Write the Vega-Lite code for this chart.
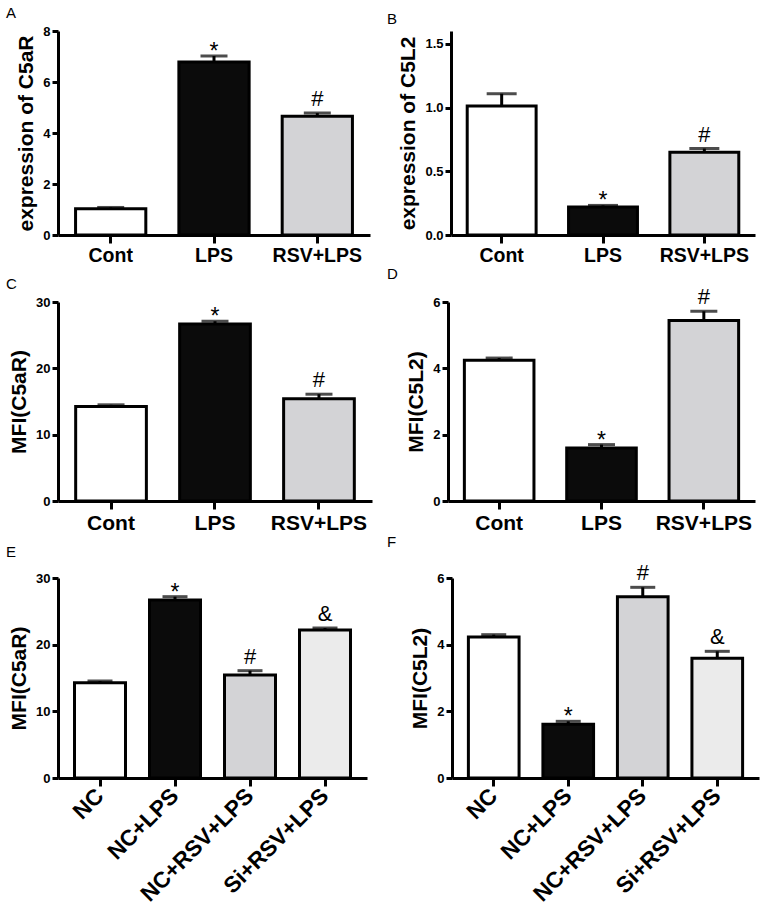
{
  "$schema": "https://vega.github.io/schema/vega-lite/v6.json",
  "background": "white",
  "padding": {"left": 6, "top": 6, "right": 5, "bottom": 5},
  "spacing": 2,
  "datasets": {
    "A": [
      {"group": "Cont", "value": 1.03, "err": 1.08, "sig": ""},
      {"group": "LPS", "value": 6.78, "err": 7.02, "sig": "*"},
      {"group": "RSV+LPS", "value": 4.66, "err": 4.78, "sig": "#"}
    ],
    "B": [
      {"group": "Cont", "value": 1.012, "err": 1.108, "sig": ""},
      {"group": "LPS", "value": 0.22, "err": 0.232, "sig": "*"},
      {"group": "RSV+LPS", "value": 0.65, "err": 0.678, "sig": "#"}
    ],
    "C": [
      {"group": "Cont", "value": 14.25, "err": 14.5, "sig": ""},
      {"group": "LPS", "value": 26.7, "err": 27.1, "sig": "*"},
      {"group": "RSV+LPS", "value": 15.4, "err": 16.1, "sig": "#"}
    ],
    "D": [
      {"group": "Cont", "value": 4.24, "err": 4.31, "sig": ""},
      {"group": "LPS", "value": 1.6, "err": 1.7, "sig": "*"},
      {"group": "RSV+LPS", "value": 5.44, "err": 5.72, "sig": "#"}
    ],
    "E": [
      {"group": "NC", "value": 14.3, "err": 14.55, "sig": ""},
      {"group": "NC+LPS", "value": 26.7, "err": 27.2, "sig": "*"},
      {"group": "NC+RSV+LPS", "value": 15.45, "err": 16.1, "sig": "#"},
      {"group": "Si+RSV+LPS", "value": 22.2, "err": 22.5, "sig": "&"}
    ],
    "F": [
      {"group": "NC", "value": 4.23, "err": 4.3, "sig": ""},
      {"group": "NC+LPS", "value": 1.61, "err": 1.7, "sig": "*"},
      {"group": "NC+RSV+LPS", "value": 5.44, "err": 5.72, "sig": "#"},
      {"group": "Si+RSV+LPS", "value": 3.59, "err": 3.8, "sig": "&"}
    ]
  },
  "vconcat": [
    {
      "bounds": "flush",
      "spacing": 81,
      "hconcat": [
        {
          "width": 312, "height": 204,
          "title": {"text": "A", "offset": 4, "dx": -52},
          "data": {"name": "A"},
          "encoding": {"x": {"field": "group", "type": "nominal", "sort": null, "title": null, "scale": {"paddingInner": 0.32, "paddingOuter": 0.17}, "axis": {"labelAngle": 0, "labelFontSize": 19.5}}},
          "layer": [
            {"mark": {"type": "rule", "strokeWidth": 3, "color": "black"}, "encoding": {"y": {"field": "value", "type": "quantitative"}, "y2": {"field": "err"}}},
            {"mark": {"type": "tick", "thickness": 3, "size": 27, "color": "black"}, "encoding": {"y": {"field": "err", "type": "quantitative"}}},
            {"mark": {"type": "bar", "stroke": "black", "strokeWidth": 3}, "encoding": {"y": {"field": "value", "type": "quantitative", "scale": {"domain": [0, 8]}, "axis": {"values": [0, 2, 4, 6, 8], "title": "expression of C5aR"}}, "fill": {"field": "group", "type": "nominal", "legend": null, "scale": {"domain": ["Cont", "LPS", "RSV+LPS"], "range": ["#ffffff", "#0b0b0b", "#d3d3d6"]}}}},
            {"transform": [{"filter": "datum.sig == '*'"}], "mark": {"type": "text", "fontSize": 23, "dy": 3, "baseline": "alphabetic"}, "encoding": {"y": {"field": "err", "type": "quantitative"}, "text": {"field": "sig"}}},
            {"transform": [{"filter": "datum.sig == '#' || datum.sig == '&'"}], "mark": {"type": "text", "fontSize": 22, "dy": -7, "baseline": "alphabetic"}, "encoding": {"y": {"field": "err", "type": "quantitative"}, "text": {"field": "sig"}}}
          ]
        },
        {
          "width": 304, "height": 204,
          "title": {"text": "B", "offset": 4, "dx": -64},
          "data": {"name": "B"},
          "encoding": {"x": {"field": "group", "type": "nominal", "sort": null, "title": null, "scale": {"paddingInner": 0.32, "paddingOuter": 0.16}, "axis": {"labelAngle": 0, "labelFontSize": 19.5}}},
          "layer": [
            {"mark": {"type": "rule", "strokeWidth": 3, "color": "black"}, "encoding": {"y": {"field": "value", "type": "quantitative"}, "y2": {"field": "err"}}},
            {"mark": {"type": "tick", "thickness": 3, "size": 30, "color": "black"}, "encoding": {"y": {"field": "err", "type": "quantitative"}}},
            {"mark": {"type": "bar", "stroke": "black", "strokeWidth": 3}, "encoding": {"y": {"field": "value", "type": "quantitative", "scale": {"domain": [0, 1.5]}, "axis": {"values": [0, 0.5, 1, 1.5], "format": ".1f", "title": "expression of C5L2"}}, "fill": {"field": "group", "type": "nominal", "legend": null, "scale": {"domain": ["Cont", "LPS", "RSV+LPS"], "range": ["#ffffff", "#0b0b0b", "#d3d3d6"]}}}},
            {"transform": [{"filter": "datum.sig == '*'"}], "mark": {"type": "text", "fontSize": 23, "dy": 3, "baseline": "alphabetic"}, "encoding": {"y": {"field": "err", "type": "quantitative"}, "text": {"field": "sig"}}},
            {"transform": [{"filter": "datum.sig == '#' || datum.sig == '&'"}], "mark": {"type": "text", "fontSize": 22, "dy": -7, "baseline": "alphabetic"}, "encoding": {"y": {"field": "err", "type": "quantitative"}, "text": {"field": "sig"}}}
          ]
        }
      ]
    },
    {
      "bounds": "flush",
      "spacing": 76,
      "hconcat": [
        {
          "width": 314, "height": 199,
          "title": {"text": "C", "offset": 4, "dx": -52},
          "data": {"name": "C"},
          "encoding": {"x": {"field": "group", "type": "nominal", "sort": null, "title": null, "scale": {"paddingInner": 0.32, "paddingOuter": 0.17}, "axis": {"labelAngle": 0, "labelFontSize": 21}}},
          "layer": [
            {"mark": {"type": "rule", "strokeWidth": 3, "color": "black"}, "encoding": {"y": {"field": "value", "type": "quantitative"}, "y2": {"field": "err"}}},
            {"mark": {"type": "tick", "thickness": 3, "size": 27, "color": "black"}, "encoding": {"y": {"field": "err", "type": "quantitative"}}},
            {"mark": {"type": "bar", "stroke": "black", "strokeWidth": 3}, "encoding": {"y": {"field": "value", "type": "quantitative", "scale": {"domain": [0, 30]}, "axis": {"values": [0, 10, 20, 30], "title": "MFI(C5aR)"}}, "fill": {"field": "group", "type": "nominal", "legend": null, "scale": {"domain": ["Cont", "LPS", "RSV+LPS"], "range": ["#ffffff", "#0b0b0b", "#d3d3d6"]}}}},
            {"transform": [{"filter": "datum.sig == '*'"}], "mark": {"type": "text", "fontSize": 23, "dy": 3, "baseline": "alphabetic"}, "encoding": {"y": {"field": "err", "type": "quantitative"}, "text": {"field": "sig"}}},
            {"transform": [{"filter": "datum.sig == '#' || datum.sig == '&'"}], "mark": {"type": "text", "fontSize": 22, "dy": -7, "baseline": "alphabetic"}, "encoding": {"y": {"field": "err", "type": "quantitative"}, "text": {"field": "sig"}}}
          ]
        },
        {
          "width": 307, "height": 199,
          "title": {"text": "D", "offset": 4, "dx": -61},
          "data": {"name": "D"},
          "encoding": {"x": {"field": "group", "type": "nominal", "sort": null, "title": null, "scale": {"paddingInner": 0.32, "paddingOuter": 0.16}, "axis": {"labelAngle": 0, "labelFontSize": 21}}},
          "layer": [
            {"mark": {"type": "rule", "strokeWidth": 3, "color": "black"}, "encoding": {"y": {"field": "value", "type": "quantitative"}, "y2": {"field": "err"}}},
            {"mark": {"type": "tick", "thickness": 3, "size": 27, "color": "black"}, "encoding": {"y": {"field": "err", "type": "quantitative"}}},
            {"mark": {"type": "bar", "stroke": "black", "strokeWidth": 3}, "encoding": {"y": {"field": "value", "type": "quantitative", "scale": {"domain": [0, 6]}, "axis": {"values": [0, 2, 4, 6], "title": "MFI(C5L2)"}}, "fill": {"field": "group", "type": "nominal", "legend": null, "scale": {"domain": ["Cont", "LPS", "RSV+LPS"], "range": ["#ffffff", "#0b0b0b", "#d3d3d6"]}}}},
            {"transform": [{"filter": "datum.sig == '*'"}], "mark": {"type": "text", "fontSize": 23, "dy": 3, "baseline": "alphabetic"}, "encoding": {"y": {"field": "err", "type": "quantitative"}, "text": {"field": "sig"}}},
            {"transform": [{"filter": "datum.sig == '#' || datum.sig == '&'"}], "mark": {"type": "text", "fontSize": 22, "dy": -7, "baseline": "alphabetic"}, "encoding": {"y": {"field": "err", "type": "quantitative"}, "text": {"field": "sig"}}}
          ]
        }
      ]
    },
    {
      "bounds": "flush",
      "spacing": 85,
      "hconcat": [
        {
          "width": 309, "height": 200,
          "title": {"text": "E", "offset": 12, "dx": -52},
          "data": {"name": "E"},
          "encoding": {"x": {"field": "group", "type": "nominal", "sort": null, "title": null, "scale": {"paddingInner": 0.32, "paddingOuter": 0.22}, "axis": {"labelAngle": -45, "labelFontSize": 22.5, "labelAlign": "right", "labelBaseline": "middle", "labelPadding": 6}}},
          "layer": [
            {"mark": {"type": "rule", "strokeWidth": 3, "color": "black"}, "encoding": {"y": {"field": "value", "type": "quantitative"}, "y2": {"field": "err"}}},
            {"mark": {"type": "tick", "thickness": 3, "size": 25, "color": "black"}, "encoding": {"y": {"field": "err", "type": "quantitative"}}},
            {"mark": {"type": "bar", "stroke": "black", "strokeWidth": 3}, "encoding": {"y": {"field": "value", "type": "quantitative", "scale": {"domain": [0, 30]}, "axis": {"values": [0, 10, 20, 30], "title": "MFI(C5aR)"}}, "fill": {"field": "group", "type": "nominal", "legend": null, "scale": {"domain": ["NC", "NC+LPS", "NC+RSV+LPS", "Si+RSV+LPS"], "range": ["#ffffff", "#0b0b0b", "#d3d3d6", "#ebebeb"]}}}},
            {"transform": [{"filter": "datum.sig == '*'"}], "mark": {"type": "text", "fontSize": 23, "dy": 3, "baseline": "alphabetic"}, "encoding": {"y": {"field": "err", "type": "quantitative"}, "text": {"field": "sig"}}},
            {"transform": [{"filter": "datum.sig == '#' || datum.sig == '&'"}], "mark": {"type": "text", "fontSize": 22, "dy": -7, "baseline": "alphabetic"}, "encoding": {"y": {"field": "err", "type": "quantitative"}, "text": {"field": "sig"}}}
          ]
        },
        {
          "width": 307, "height": 200,
          "title": {"text": "F", "offset": 12, "dx": -65},
          "data": {"name": "F"},
          "encoding": {"x": {"field": "group", "type": "nominal", "sort": null, "title": null, "scale": {"paddingInner": 0.32, "paddingOuter": 0.22}, "axis": {"labelAngle": -45, "labelFontSize": 22.5, "labelAlign": "right", "labelBaseline": "middle", "labelPadding": 6}}},
          "layer": [
            {"mark": {"type": "rule", "strokeWidth": 3, "color": "black"}, "encoding": {"y": {"field": "value", "type": "quantitative"}, "y2": {"field": "err"}}},
            {"mark": {"type": "tick", "thickness": 3, "size": 25, "color": "black"}, "encoding": {"y": {"field": "err", "type": "quantitative"}}},
            {"mark": {"type": "bar", "stroke": "black", "strokeWidth": 3}, "encoding": {"y": {"field": "value", "type": "quantitative", "scale": {"domain": [0, 6]}, "axis": {"values": [0, 2, 4, 6], "title": "MFI(C5L2)"}}, "fill": {"field": "group", "type": "nominal", "legend": null, "scale": {"domain": ["NC", "NC+LPS", "NC+RSV+LPS", "Si+RSV+LPS"], "range": ["#ffffff", "#0b0b0b", "#d3d3d6", "#ebebeb"]}}}},
            {"transform": [{"filter": "datum.sig == '*'"}], "mark": {"type": "text", "fontSize": 23, "dy": 3, "baseline": "alphabetic"}, "encoding": {"y": {"field": "err", "type": "quantitative"}, "text": {"field": "sig"}}},
            {"transform": [{"filter": "datum.sig == '#' || datum.sig == '&'"}], "mark": {"type": "text", "fontSize": 22, "dy": -7, "baseline": "alphabetic"}, "encoding": {"y": {"field": "err", "type": "quantitative"}, "text": {"field": "sig"}}}
          ]
        }
      ]
    }
  ],
  "resolve": {"scale": {"x": "independent", "y": "independent", "fill": "independent"}},
  "config": {
    "font": "Liberation Sans",
    "view": {"stroke": null},
    "axis": {"domainColor": "black", "domainWidth": 3, "tickColor": "black", "tickWidth": 3, "labelColor": "black", "labelFont": "Liberation Sans", "labelFontWeight": "bold", "titleFont": "Liberation Sans", "titleFontWeight": "bold", "titleColor": "black", "grid": false},
    "axisX": {"labelFontSize": 19, "tickSize": 8, "labelPadding": 3},
    "axisY": {"labelFontSize": 13, "tickSize": 6, "titleFontSize": 21, "labelPadding": 2, "titlePadding": 6},
    "title": {"anchor": "start", "frame": "group", "fontWeight": "normal", "fontSize": 15, "font": "Liberation Sans", "color": "black"},
    "text": {"font": "Liberation Sans", "color": "black"}
  }
}
